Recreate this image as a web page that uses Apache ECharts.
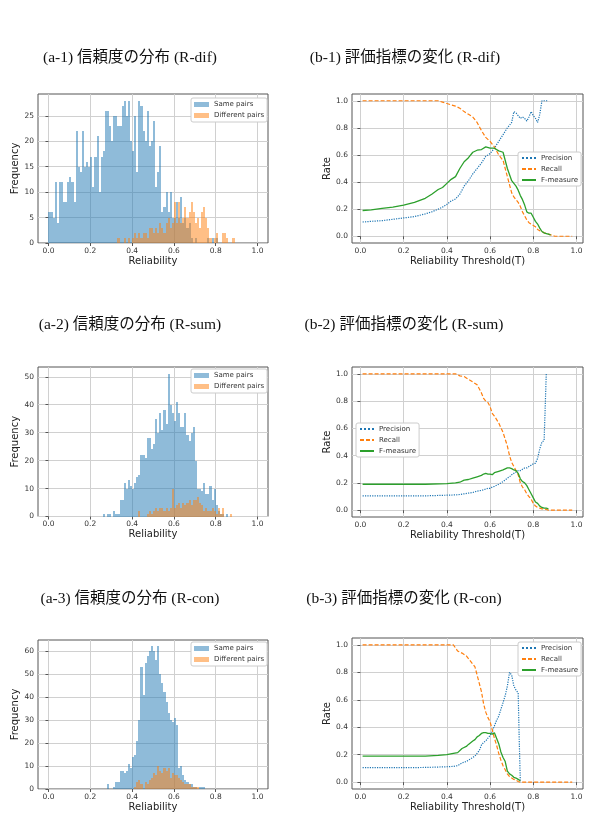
<!DOCTYPE html>
<html>
<head>
<meta charset="utf-8">
<script src="https://cdn.jsdelivr.net/npm/echarts@6/dist/echarts.min.js"></script>
<style>
html, body { margin: 0; padding: 0; background: #fff; }
#main { width: 599px; height: 825px; }
</style>
</head>
<body>
<div id="main"></div>
<script>
// histogram bins are 0.01 wide, counts start at the given left edge
const BIN = 0.01;

const a1SameStart = 0.00;
const a1Same = [6, 6, 5, 12, 4, 12, 12, 8, 8, 12, 13, 12, 8, 22, 15, 14, 22, 15, 16, 15,
  17, 11, 17, 21, 10, 17, 18, 26, 26, 23, 20, 25, 25, 23, 23, 27, 28, 25, 28, 20,
  18, 25, 14, 28, 27, 22, 20, 26, 19, 20, 24, 11, 14, 19, 6, 7, 10, 6, 10, 5,
  5, 8, 5, 9, 4, 5, 3, 4, 1, 0, 1, 0, 0, 0, 0, 0, 1, 0, 1, 0, 1];
const a1DiffStart = 0.33;
const a1Diff = [1, 0, 0, 1, 0, 1, 0, 1, 2, 1, 2, 1, 2, 2, 1, 3, 3, 2, 3, 2,
  4, 3, 2, 4, 5, 3, 4, 8, 4, 8, 4, 5, 7, 5, 6, 8, 6, 4, 5, 3,
  6, 7, 5, 3, 1, 0, 1, 2, 0, 0, 2, 2, 1, 0, 0, 1];

const a2SameStart = 0.26;
const a2Same = [1, 0, 1, 1, 0, 2, 1, 1, 6, 6, 12, 10, 13, 11, 10, 12, 14, 15, 22, 22,
  21, 28, 28, 24, 26, 35, 30, 37, 31, 38, 33, 51, 40, 37, 34, 41, 37, 32, 32, 37,
  29, 27, 30, 32, 20, 10, 10, 9, 12, 8, 8, 11, 6, 10, 4, 2, 1, 1, 0, 1];
const a2DiffStart = 0.43;
const a2Diff = [2, 0, 0, 0, 1, 2, 1, 2, 3, 2, 3, 3, 2, 3, 2, 3, 10, 3, 4, 5,
  3, 5, 4, 5, 6, 4, 6, 6, 7, 5, 4, 2, 3, 2, 2, 3, 2, 1, 3, 1,
  3, 0, 0, 0, 1];

const a3SameStart = 0.28;
const a3Same = [2, 0, 0, 1, 3, 3, 8, 8, 7, 8, 11, 9, 14, 15, 21, 30, 53, 41, 55, 58,
  60, 62, 60, 56, 62, 50, 46, 42, 38, 33, 30, 29, 31, 28, 9, 10, 6, 4, 3, 2,
  2, 1, 1, 0, 1, 1, 1];
const a3DiffStart = 0.41;
const a3Diff = [1, 3, 4, 2, 0, 3, 2, 4, 5, 7, 6, 10, 8, 7, 9, 8, 9, 5, 7, 6,
  6, 5, 4, 3, 2, 2, 2, 1, 1, 1, 1];

// rate curves
const b1T = [0.01, 0.05, 0.10, 0.15, 0.20, 0.25, 0.30, 0.33, 0.36, 0.38, 0.40, 0.42, 0.44, 0.46, 0.48, 0.50,
  0.52, 0.54, 0.56, 0.58, 0.60, 0.62, 0.64, 0.66, 0.68, 0.70, 0.71, 0.72, 0.73, 0.74, 0.75, 0.76,
  0.77, 0.78, 0.79, 0.80, 0.81, 0.82, 0.83, 0.84, 0.85, 0.86, 0.87, 0.88, 0.90, 0.94, 0.98];
const b1Precision = [0.105, 0.11, 0.115, 0.125, 0.135, 0.145, 0.165, 0.18, 0.20, 0.215, 0.235, 0.26, 0.275, 0.31, 0.37, 0.41,
  0.46, 0.50, 0.54, 0.59, 0.61, 0.65, 0.70, 0.75, 0.80, 0.84, 0.92, 0.91, 0.89, 0.87, 0.88, 0.87,
  0.85, 0.88, 0.92, 0.89, 0.87, 0.84, 0.90, 1.0, 1.0, 1.0, 1.0, null, null, null, null];
const b1Recall = [1, 1, 1, 1, 1, 1, 1, 1, 1, 0.99, 0.98, 0.97, 0.96, 0.945, 0.92, 0.90,
  0.88, 0.84, 0.78, 0.73, 0.70, 0.66, 0.60, 0.56, 0.44, 0.32, 0.29, 0.27, 0.25, 0.22, 0.18, 0.15,
  0.12, 0.10, 0.09, 0.08, 0.07, 0.05, 0.04, 0.035, 0.025, 0.02, 0.015, 0.01, 0, 0, 0];
const b1F = [0.19, 0.195, 0.205, 0.215, 0.23, 0.25, 0.28, 0.31, 0.345, 0.36, 0.39, 0.42, 0.44, 0.50, 0.55, 0.58,
  0.62, 0.635, 0.64, 0.66, 0.65, 0.65, 0.63, 0.62, 0.50, 0.41, 0.39, 0.37, 0.34, 0.30, 0.27, 0.23,
  0.18, 0.17, 0.17, 0.14, 0.11, 0.09, 0.06, 0.035, 0.025, 0.02, 0.015, 0.01, null, null, null];

const b2T = [0.01, 0.05, 0.10, 0.20, 0.30, 0.40, 0.44, 0.46, 0.48, 0.50, 0.52, 0.54, 0.56, 0.57, 0.58, 0.59,
  0.60, 0.61, 0.62, 0.64, 0.66, 0.68, 0.69, 0.70, 0.71, 0.72, 0.73, 0.74, 0.75, 0.76, 0.77, 0.78,
  0.79, 0.80, 0.81, 0.82, 0.83, 0.84, 0.85, 0.855, 0.86, 0.87, 0.88, 0.90, 0.94, 0.98];
const b2Precision = [0.105, 0.105, 0.105, 0.105, 0.105, 0.11, 0.112, 0.115, 0.12, 0.125, 0.13, 0.14, 0.145, 0.15, 0.155, 0.16,
  0.16, 0.17, 0.175, 0.19, 0.21, 0.235, 0.245, 0.26, 0.27, 0.28, 0.29, 0.29, 0.30, 0.31, 0.31, 0.32,
  0.33, 0.34, 0.345, 0.38, 0.45, 0.50, 0.51, 0.75, 1.0, null, null, null, null, null];
const b2Recall = [1, 1, 1, 1, 1, 1, 1, 0.985, 0.98, 0.96, 0.94, 0.92, 0.86, 0.82, 0.80, 0.79,
  0.76, 0.71, 0.69, 0.64, 0.57, 0.47, 0.40, 0.35, 0.32, 0.29, 0.26, 0.20, 0.17, 0.15, 0.12, 0.10,
  0.08, 0.05, 0.03, 0.02, 0.015, 0.01, 0.01, 0.01, 0.005, 0, 0, 0, 0, 0];
const b2F = [0.19, 0.19, 0.19, 0.19, 0.19, 0.195, 0.20, 0.205, 0.22, 0.225, 0.235, 0.245, 0.255, 0.265, 0.27, 0.265,
  0.265, 0.26, 0.275, 0.285, 0.295, 0.31, 0.31, 0.305, 0.295, 0.29, 0.27, 0.23, 0.21, 0.20, 0.18, 0.15,
  0.12, 0.09, 0.06, 0.05, 0.03, 0.02, 0.015, 0.015, 0.015, 0.01, null, null, null, null];

const b3T = [0.01, 0.05, 0.10, 0.20, 0.30, 0.36, 0.40, 0.43, 0.45, 0.47, 0.49, 0.50, 0.52, 0.53, 0.54, 0.55,
  0.56, 0.57, 0.58, 0.59, 0.60, 0.61, 0.62, 0.63, 0.64, 0.65, 0.66, 0.67, 0.68, 0.69, 0.70, 0.71,
  0.72, 0.73, 0.735, 0.74, 0.76, 0.80, 0.90, 0.98];
const b3Precision = [0.105, 0.105, 0.105, 0.105, 0.107, 0.11, 0.112, 0.115, 0.12, 0.14, 0.15, 0.16, 0.18, 0.19, 0.21, 0.23,
  0.27, 0.29, 0.30, 0.32, 0.34, 0.37, 0.41, 0.45, 0.48, 0.53, 0.58, 0.63, 0.70, 0.80, 0.78, 0.70,
  0.67, 0.65, 0.30, 0.0, null, null, null, null];
const b3Recall = [1, 1, 1, 1, 1, 1, 1, 1, 0.955, 0.94, 0.92, 0.90, 0.86, 0.84, 0.78, 0.72,
  0.66, 0.57, 0.51, 0.47, 0.44, 0.38, 0.32, 0.27, 0.21, 0.16, 0.12, 0.09, 0.06, 0.04, 0.03, 0.02,
  0.015, 0.005, 0.003, 0, 0, 0, 0, 0];
const b3F = [0.19, 0.19, 0.19, 0.19, 0.19, 0.195, 0.20, 0.21, 0.215, 0.245, 0.26, 0.275, 0.30, 0.31, 0.33, 0.34,
  0.355, 0.36, 0.36, 0.355, 0.355, 0.35, 0.36, 0.32, 0.28, 0.22, 0.18, 0.15, 0.08, 0.06, 0.05, 0.035,
  0.03, 0.02, 0.015, 0.01, null, null, null, null];

const titles = [
  ['(a-1) 信頼度の分布 (R-dif)', 130, 58], ['(b-1) 評価指標の変化 (R-dif)', 405, 58],
  ['(a-2) 信頼度の分布 (R-sum)', 130, 325], ['(b-2) 評価指標の変化 (R-sum)', 404, 325],
  ['(a-3) 信頼度の分布 (R-con)', 130, 599], ['(b-3) 評価指標の変化 (R-con)', 404, 599]
];

const BLUE = '#1f77b4', ORANGE = '#ff7f0e', GREEN = '#2ca02c';
const tickFont = { fontSize: 7.5, color: '#333', fontFamily: 'DejaVu Sans' };
const nameFont = { fontSize: 10, color: '#222', fontFamily: 'DejaVu Sans' };

const grids = [
  { left: 38, top: 94, width: 230, height: 149 },
  { left: 38, top: 367, width: 230, height: 149.5 },
  { left: 38, top: 640, width: 230, height: 149 },
  { left: 352, top: 94, width: 231, height: 149 },
  { left: 352, top: 367, width: 231, height: 150 },
  { left: 352, top: 638, width: 231, height: 151 }
];

function makeXAxis(idx, name, min, max) {
  return {
    gridIndex: idx, type: 'value', min: min, max: max, name: name,
    nameLocation: 'middle', nameGap: 13, nameTextStyle: nameFont,
    axisLine: { show: false },
    axisTick: { show: true, length: 3, lineStyle: { color: '#555' }, customValues: [0, 0.2, 0.4, 0.6, 0.8, 1.0] },
    axisLabel: Object.assign({ margin: 4, customValues: [0, 0.2, 0.4, 0.6, 0.8, 1.0], formatter: v => v.toFixed(1) }, tickFont),
    splitLine: { show: true, lineStyle: { color: '#d0d0d0', width: 1 } }
  };
}

function makeYAxis(idx, name, min, max, ticks, digits, gap) {
  return {
    gridIndex: idx, type: 'value', min: min, max: max, name: name,
    nameLocation: 'middle', nameGap: gap, nameRotate: 90, nameTextStyle: nameFont,
    axisLine: { show: false },
    axisTick: { show: true, length: 3, lineStyle: { color: '#555' }, customValues: ticks },
    axisLabel: Object.assign({ margin: 4, customValues: ticks, formatter: v => v.toFixed(digits) }, tickFont),
    splitLine: { show: true, lineStyle: { color: '#d0d0d0', width: 1 } }
  };
}

function histSeries(name, color, start, counts, idx) {
  const data = counts.map((c, i) => [start + i * BIN, start + (i + 1) * BIN, c]);
  return {
    type: 'custom', name: name, xAxisIndex: idx, yAxisIndex: idx,
    itemStyle: { color: color, opacity: 0.5 },
    encode: { x: [0, 1], y: 2 },
    data: data,
    renderItem: function (params, api) {
      // snap edges to whole pixels so neighbouring bins don't leave seams
      const top = api.coord([api.value(0), api.value(2)]);
      const bottom = api.coord([api.value(1), 0]);
      const x0 = Math.round(top[0]), x1 = Math.round(bottom[0]);
      const y0 = Math.round(top[1]), y1 = Math.round(bottom[1]);
      return {
        type: 'rect',
        shape: { x: x0, y: y0, width: x1 - x0, height: y1 - y0 },
        style: { fill: color, opacity: 0.5 }
      };
    }
  };
}

function lineSeries(name, color, dash, width, T, vals, idx) {
  return {
    type: 'line', name: name, xAxisIndex: idx, yAxisIndex: idx,
    showSymbol: false, symbol: 'none', animation: false,
    lineStyle: { color: color, type: dash, width: width },
    itemStyle: { color: color },
    data: T.map((t, i) => [t, vals[i]])
  };
}

function histLegend(top) {
  return {
    left: 191, top: top, orient: 'vertical',
    data: [{ name: 'Same pairs', icon: 'rect' }, { name: 'Different pairs', icon: 'rect' }],
    itemWidth: 15, itemHeight: 5, itemGap: 2,
    textStyle: { fontSize: 7, color: '#333', fontFamily: 'DejaVu Sans', lineHeight: 9 },
    backgroundColor: '#fff', borderColor: '#ccc', borderWidth: 1, borderRadius: 2, padding: [2, 3]
  };
}

function rateLegend(left, top) {
  return {
    left: left, top: top, orient: 'vertical',
    data: ['Precision', 'Recall', 'F-measure'],
    itemWidth: 14, itemHeight: 7, itemGap: 3,
    itemStyle: { color: 'transparent', borderWidth: 0 },
    textStyle: { fontSize: 7, color: '#333', fontFamily: 'DejaVu Sans', lineHeight: 8 },
    backgroundColor: '#fff', borderColor: '#ccc', borderWidth: 1, borderRadius: 2, padding: [2, 3]
  };
}

const chart = echarts.init(document.getElementById('main'), null, { renderer: 'canvas' });

const option = {
  animation: false,
  backgroundColor: '#fff',
  grid: grids.map(g => Object.assign({ show: true, borderColor: '#555', borderWidth: 1, backgroundColor: 'transparent' }, g)),
  xAxis: [
    makeXAxis(0, 'Reliability', -0.05, 1.05),
    makeXAxis(1, 'Reliability', -0.05, 1.05),
    makeXAxis(2, 'Reliability', -0.05, 1.05),
    makeXAxis(3, 'Reliability Threshold(T)', -0.039, 1.03),
    makeXAxis(4, 'Reliability Threshold(T)', -0.039, 1.03),
    makeXAxis(5, 'Reliability Threshold(T)', -0.039, 1.03)
  ],
  yAxis: [
    makeYAxis(0, 'Frequency', 0, 29.3, [0, 5, 10, 15, 20, 25], 0, 15),
    makeYAxis(1, 'Frequency', 0, 53.5, [0, 10, 20, 30, 40, 50], 0, 15),
    makeYAxis(2, 'Frequency', 0, 64.8, [0, 10, 20, 30, 40, 50, 60], 0, 15),
    makeYAxis(3, 'Rate', -0.05, 1.05, [0, 0.2, 0.4, 0.6, 0.8, 1.0], 1, 17),
    makeYAxis(4, 'Rate', -0.05, 1.05, [0, 0.2, 0.4, 0.6, 0.8, 1.0], 1, 17),
    makeYAxis(5, 'Rate', -0.05, 1.05, [0, 0.2, 0.4, 0.6, 0.8, 1.0], 1, 17)
  ],
  legend: [
    histLegend(98), histLegend(369), histLegend(642),
    rateLegend(518, 152), rateLegend(356, 423), rateLegend(518, 642)
  ],
  series: [
    histSeries('Same pairs', BLUE, a1SameStart, a1Same, 0),
    histSeries('Different pairs', ORANGE, a1DiffStart, a1Diff, 0),
    histSeries('Same pairs', BLUE, a2SameStart, a2Same, 1),
    histSeries('Different pairs', ORANGE, a2DiffStart, a2Diff, 1),
    histSeries('Same pairs', BLUE, a3SameStart, a3Same, 2),
    histSeries('Different pairs', ORANGE, a3DiffStart, a3Diff, 2),
    lineSeries('Precision', BLUE, 'dotted', 1.2, b1T, b1Precision, 3),
    lineSeries('Recall', ORANGE, [4, 2], 1.2, b1T, b1Recall, 3),
    lineSeries('F-measure', GREEN, 'solid', 1.3, b1T, b1F, 3),
    lineSeries('Precision', BLUE, 'dotted', 1.2, b2T, b2Precision, 4),
    lineSeries('Recall', ORANGE, [4, 2], 1.2, b2T, b2Recall, 4),
    lineSeries('F-measure', GREEN, 'solid', 1.3, b2T, b2F, 4),
    lineSeries('Precision', BLUE, 'dotted', 1.2, b3T, b3Precision, 5),
    lineSeries('Recall', ORANGE, [4, 2], 1.2, b3T, b3Recall, 5),
    lineSeries('F-measure', GREEN, 'solid', 1.3, b3T, b3F, 5)
  ],
  graphic: titles.map(t => ({
    type: 'text', x: t[1], y: t[2],
    style: {
      text: t[0], fontSize: 15.5, fill: '#111',
      fontFamily: '"Liberation Serif", "Noto Sans CJK JP", serif',
      align: 'center', verticalAlign: 'middle'
    }
  }))
};

chart.setOption(option);
</script>
</body>
</html>
